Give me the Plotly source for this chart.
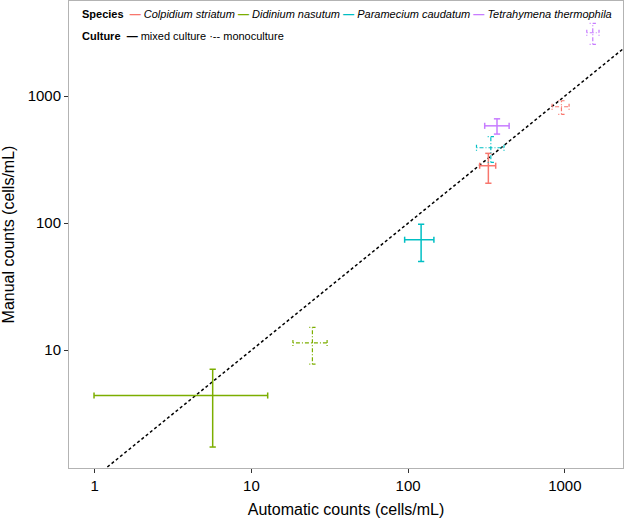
import plotly.graph_objects as go

species = ["Colpidium striatum", "Didinium nasutum", "Paramecium caudatum", "Tetrahymena thermophila"]
colors = ["#F8766D", "#7CAE00", "#00BFC4", "#C77CFF"]

# Mixed culture (automatic = x, manual = y), with lower/upper error limits
mixed_auto = [325, 5.66, 121, 369]
mixed_auto_lo = [286, 0.99, 95, 308]
mixed_auto_hi = [362, 12.7, 146, 441]
mixed_manual = [283, 4.40, 74, 583]
mixed_manual_lo = [206, 1.73, 49.9, 502]
mixed_manual_hi = [354, 7.08, 98, 662]

# Monoculture
mono_auto = [951, 24.5, 337, 1507]
mono_auto_lo = [829, 18.4, 273, 1380]
mono_auto_hi = [1064, 30.4, 409, 1652]
mono_manual = [824, 11.4, 392, 3148]
mono_manual_lo = [718, 7.76, 301, 2553]
mono_manual_hi = [918, 15.1, 479, 3732]

# 1:1 reference line
ref_line = [0.5, 5000]

x_ticks = [1, 10, 100, 1000]
y_ticks = [10, 100, 1000]

CAP_X = 10 ** 0.02   # cap half-size (multiplicative, log axis)
CAP_Y = 10 ** 0.024


def cross(x, xlo, xhi, y, ylo, yhi):
    xs = [xlo, xhi, None, xlo, xlo, None, xhi, xhi, None,
          x, x, None, x / CAP_X, x * CAP_X, None, x / CAP_X, x * CAP_X]
    ys = [y, y, None, y / CAP_Y, y * CAP_Y, None, y / CAP_Y, y * CAP_Y, None,
          ylo, yhi, None, ylo, ylo, None, yhi, yhi]
    return xs, ys


fig = go.Figure()

fig.add_trace(go.Scatter(x=ref_line, y=ref_line, mode="lines",
                         line=dict(color="black", width=1.5, dash="3px,2.5px"),
                         showlegend=False, hoverinfo="skip"))

for i, sp in enumerate(species):
    xs, ys = cross(mixed_auto[i], mixed_auto_lo[i], mixed_auto_hi[i],
                   mixed_manual[i], mixed_manual_lo[i], mixed_manual_hi[i])
    fig.add_trace(go.Scatter(x=xs, y=ys, mode="lines", name=sp,
                             line=dict(color=colors[i], width=1.5),
                             showlegend=False))
    xs, ys = cross(mono_auto[i], mono_auto_lo[i], mono_auto_hi[i],
                   mono_manual[i], mono_manual_lo[i], mono_manual_hi[i])
    fig.add_trace(go.Scatter(x=xs, y=ys, mode="lines", name=sp,
                             line=dict(color=colors[i], width=1.2, dash="1px,2px,4px,2px"),
                             showlegend=False))

FONT = "Liberation Sans, Arial, sans-serif"

species_row = "<b>Species</b>  " + " ".join(
    f"<span style='color:{c}'><b>—</b></span> <i>{s}</i>" for s, c in zip(species, colors))
culture_row = "<b>Culture</b>  <b>—</b> mixed culture <span>·--</span> monoculture"

fig.add_annotation(text=species_row, xref="paper", yref="paper", x=0.02, y=0.972,
                   xanchor="left", yanchor="middle", showarrow=False,
                   font=dict(family=FONT, size=11, color="black"))
fig.add_annotation(text=culture_row, xref="paper", yref="paper", x=0.02, y=0.925,
                   xanchor="left", yanchor="middle", showarrow=False,
                   font=dict(family=FONT, size=11, color="black"))

axis_common = dict(type="log", showline=True, mirror=True, linecolor="#b3b3b3", linewidth=1,
                   ticks="outside", ticklen=4, tickcolor="#333333", tickwidth=1,
                   showgrid=False, zeroline=False,
                   tickfont=dict(family=FONT, size=15, color="black"))

fig.update_layout(
    width=625, height=519,
    margin=dict(l=69, r=2, t=1, b=51, autoexpand=False),
    plot_bgcolor="white", paper_bgcolor="white",
    showlegend=False,
    xaxis=dict(range=[-0.164, 3.371], tickvals=x_ticks, ticktext=[str(v) for v in x_ticks],
               title=dict(text="Automatic counts (cells/mL)", font=dict(family=FONT, size=16, color="black"),
                          standoff=10),
               **axis_common),
    yaxis=dict(range=[0.073, 3.748], tickvals=y_ticks, ticktext=[str(v) for v in y_ticks],
               title=dict(text="Manual counts (cells/mL)", font=dict(family=FONT, size=16, color="black"),
                          standoff=10),
               **axis_common),
)

fig.write_html("out.html", config={"displayModeBar": False},
               post_script="document.body.style.margin='0px';document.body.style.padding='0px';")
